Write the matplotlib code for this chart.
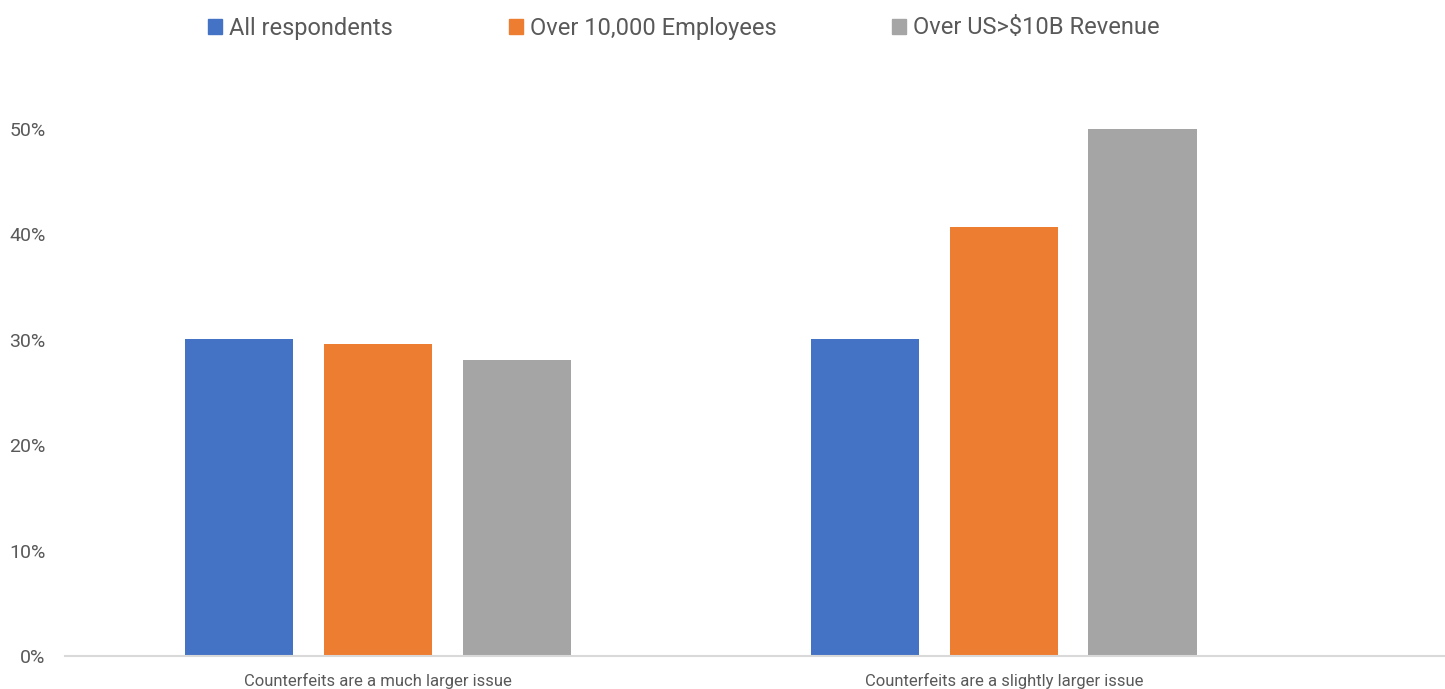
import matplotlib.pyplot as plt
import numpy as np
from matplotlib.patches import Patch

categories = ['Counterfeits are a much larger issue', 'Counterfeits are a slightly larger issue']
series = ['All respondents', 'Over 10,000 Employees', 'Over US>$10B Revenue']
values = [
    [0.301, 0.301],
    [0.296, 0.407],
    [0.281, 0.500],
]
colors = ['#4472C4', '#ED7D31', '#A5A5A5']

plt.rcParams['font.family'] = ['Roboto', 'DejaVu Sans']

fig = plt.figure(figsize=(14.45, 6.89), dpi=100)
ax = fig.add_axes([65/1445, 33/689, 1380/1445, 527/689])

x = np.arange(len(categories))
width = 0.174
step = 0.222
for i, (name, vals) in enumerate(zip(series, values)):
    ax.bar(x + (i - 1) * step, vals, width, color=colors[i], label=name, clip_on=False)

ax.set_xlim(-0.5, 1.7045)
ax.set_ylim(0, 0.5)
ax.set_yticks(np.arange(0, 0.51, 0.1))
ax.set_yticklabels(['%d%%' % round(v * 100) for v in np.arange(0, 0.51, 0.1)])
ax.set_xticks(x)
ax.set_xticklabels(categories, fontsize=12, color='#595959')
ax.tick_params(axis='y', labelsize=14, colors='#595959', length=0, pad=14)
ax.tick_params(axis='x', length=0, pad=12)
for s in ['top', 'right', 'left']:
    ax.spines[s].set_visible(False)
ax.spines['bottom'].set_color('#d9d9d9')
ax.spines['bottom'].set_linewidth(1.5)

handles = [Patch(color=c) for c in colors]
fig.legend(handles, series, loc='center', bbox_to_anchor=(684/1445, 1 - 28/689), ncol=3,
           frameon=False, fontsize=17, handlelength=0.6, handleheight=0.6,
           handletextpad=0.3, columnspacing=4.9, labelcolor='#595959')

plt.savefig('out.png', dpi=100)
